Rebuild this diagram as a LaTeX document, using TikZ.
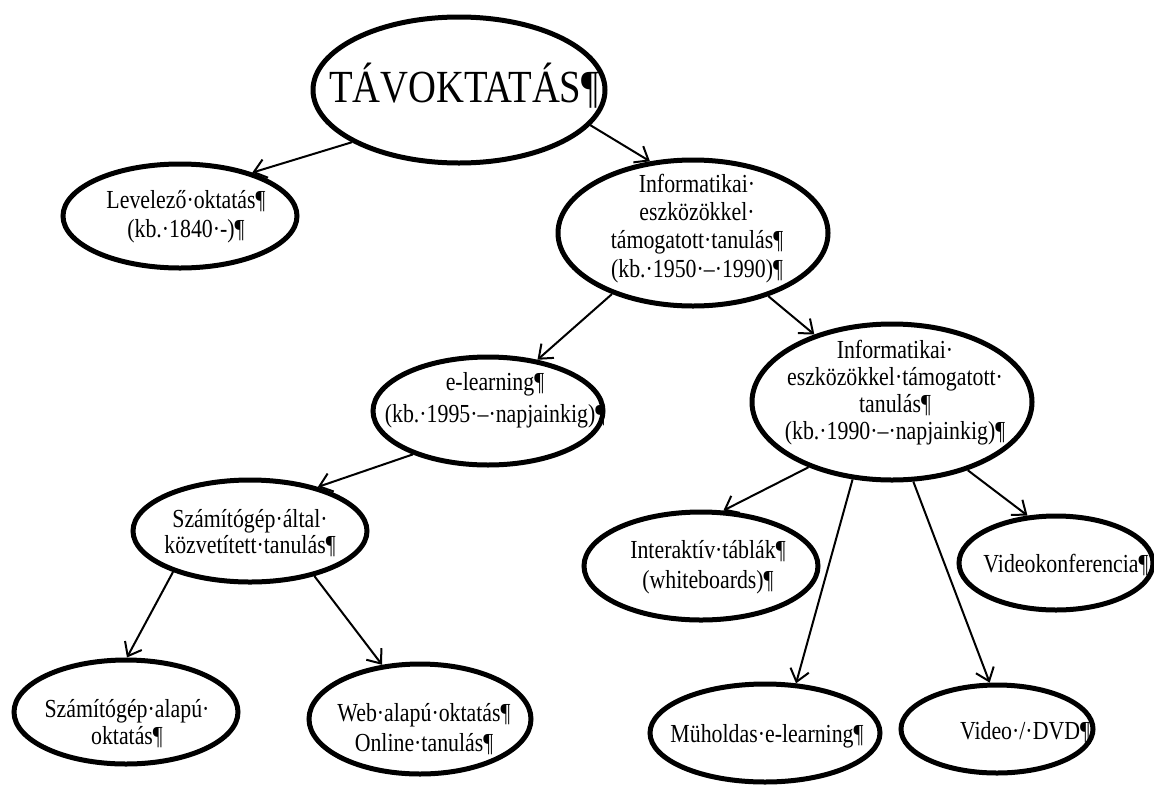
\documentclass[tikz,border=0pt]{standalone}
\usepackage{fontspec}
\setmainfont{Liberation Serif}
\usetikzlibrary{shapes.geometric,arrows.meta}
\newcommand{\ctxt}[2]{\scalebox{0.84}[1]{\fontsize{26}{#1}\selectfont\begin{tabular}{@{}c@{}}#2\end{tabular}}}
\newcommand{\bigtxt}[1]{\scalebox{0.84}[1]{\fontsize{46}{50}\selectfont\begin{tabular}{@{}c@{}}#1\end{tabular}}}
\begin{document}
\begin{tikzpicture}[x=1pt,y=-1pt,
  ell/.style={draw, ellipse, line width=5pt, inner sep=0pt},
  txt/.style={inner sep=0pt, outer sep=0pt},
  arr/.style={line width=2pt, -{Straight Barb[length=12pt,width=19pt]}}]
\fill[white] (0,0) rectangle (1154,785);
\path[use as bounding box] (0,0) rectangle (1154,785);

% ellipses
\node[ell, minimum width=292, minimum height=146] (tav) at (459,90) {};
\node[ell, minimum width=234, minimum height=104] (lev) at (180,216) {};
\node[ell, minimum width=270, minimum height=146] (inf1) at (693,233) {};
\node[ell, minimum width=230, minimum height=108] (elearn) at (488,411) {};
\node[ell, minimum width=280, minimum height=156] (inf2) at (892,402) {};
\node[ell, minimum width=234, minimum height=102] (szall) at (250,531) {};
\node[ell, minimum width=224, minimum height=104] (szalap) at (126,712) {};
\node[ell, minimum width=222, minimum height=110] (web) at (420,719) {};
\node[ell, minimum width=234, minimum height=108] (inter) at (701,566) {};
\node[ell, minimum width=230, minimum height=98] (muh) at (765,733) {};
\node[ell, minimum width=192, minimum height=88] (dvd) at (997,729) {};
\node[ell, minimum width=194, minimum height=94] (vkonf) at (1056,563) {};

% texts
\node[txt] (ttav) at (464,90) {\bigtxt{TÁVOKTATÁS¶}};
\node[txt] (tlev) at (186,217) {\ctxt{29}{Levelező·oktatás¶\\(kb.·1840·-)¶}};
\node[txt] (tinf1) at (697,229) {\ctxt{28.3}{Informatikai·\\eszközökkel·\\támogatott·tanulás¶\\(kb.·1950·–·1990)¶}};
\node[txt] (telearn) at (495,400) {\ctxt{32}{e-learning¶\\(kb.·1995·–·napjainkig)¶}};
\node[txt] (tinf2) at (895,393.5) {\ctxt{27.3}{Informatikai·\\eszközökkel·támogatott·\\tanulás¶\\(kb.·1990·–·napjainkig)¶}};
\node[txt] (tszall) at (250,535) {\ctxt{26}{Számítógép·által·\\közvetített·tanulás¶}};
\node[txt] (tszalap) at (127,726) {\ctxt{27}{Számítógép·alapú·\\oktatás¶}};
\node[txt] (tweb) at (424,730) {\ctxt{30}{Web·alapú·oktatás¶\\Online·tanulás¶}};
\node[txt] (tinter) at (708,567) {\ctxt{30}{Interaktív·táblák¶\\(whiteboards)¶}};
\node[txt] (tmuh) at (767,737) {\ctxt{28}{Müholdas·e-learning¶}};
\node[txt] (tdvd) at (1025,734) {\ctxt{28}{Video·/·DVD¶}};
\node[txt] (tvkonf) at (1066,567) {\ctxt{28}{Videokonferencia¶}};

% connectors
\draw[arr] (tav.206) -- (lev.31);
\draw[arr] (tav.345) -- (inf1.121);
\draw[arr] (inf1.217) -- (elearn.46);
\draw[arr] (inf1.320) -- (inf2.139);
\draw[arr] (elearn.210) -- (szall.33);
\draw[arr] (szall.208) -- (szalap.89);
\draw[arr] (szall.325) -- (web.125);
\draw[arr] (inf2.218) -- (inter.68);
\draw[arr] (inf2.243) -- (muh.58);
\draw[arr] (inf2.285) -- (dvd.99);
\draw[arr] (inf2.318) -- (vkonf.121);
\end{tikzpicture}
\end{document}
